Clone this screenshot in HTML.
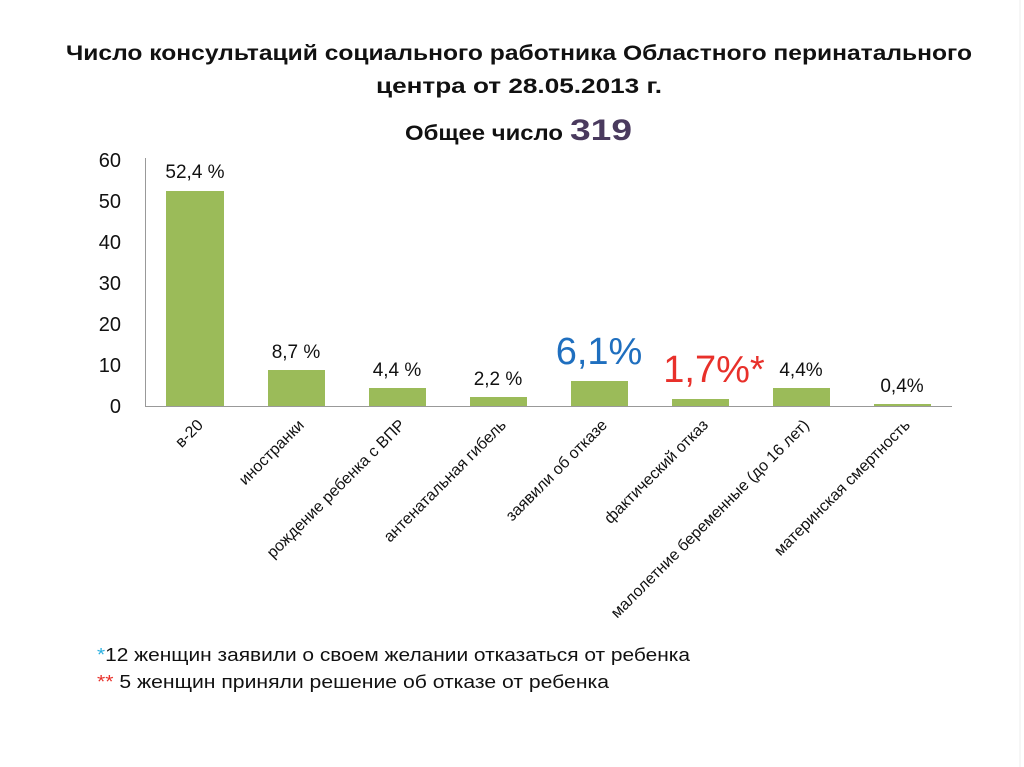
<!DOCTYPE html>
<html><head><meta charset="utf-8"><style>
html,body{margin:0;padding:0;background:#fff;}
svg{display:block;font-family:"Liberation Sans","DejaVu Sans",sans-serif;}
</style></head><body>
<svg width="1024" height="767" viewBox="0 0 1024 767" xmlns="http://www.w3.org/2000/svg">
<rect x="0" y="0" width="1024" height="767" fill="#fff"/>
<line x1="1020" y1="0" x2="1020" y2="767" stroke="#eee" stroke-width="1"/>
<text x="66" y="60" font-size="21" font-weight="bold" fill="#111" textLength="906" lengthAdjust="spacingAndGlyphs">Число консультаций социального работника Областного перинатального</text>
<text x="376" y="93" font-size="21" font-weight="bold" fill="#111" textLength="286" lengthAdjust="spacingAndGlyphs">центра от 28.05.2013 г.</text>
<text x="405" y="140" font-size="21" font-weight="bold" fill="#111" textLength="158" lengthAdjust="spacingAndGlyphs">Общее число</text>
<text x="570" y="140" font-size="30" font-weight="bold" fill="#4a3a5e" textLength="62" lengthAdjust="spacingAndGlyphs">319</text>
<g font-size="20" fill="#111" text-anchor="end">
<text x="121" y="167">60</text><text x="121" y="208">50</text><text x="121" y="249">40</text>
<text x="121" y="290">30</text><text x="121" y="331">20</text><text x="121" y="372">10</text><text x="121" y="413">0</text>
</g>
<line x1="145.5" y1="158" x2="145.5" y2="406" stroke="#999"/>
<line x1="145" y1="406.5" x2="952" y2="406.5" stroke="#999"/>
<g fill="#9bbb59">
<rect x="166" y="191" width="58" height="215"/>
<rect x="268" y="370" width="57" height="36"/>
<rect x="369" y="388" width="57" height="18"/>
<rect x="470" y="397" width="57" height="9"/>
<rect x="571" y="381" width="57" height="25"/>
<rect x="672" y="399" width="57" height="7"/>
<rect x="773" y="388" width="57" height="18"/>
<rect x="874" y="404" width="57" height="2"/>
</g>
<g font-size="19" fill="#111" text-anchor="middle">
<text x="195" y="178">52,4 %</text>
<text x="296" y="358">8,7 %</text>
<text x="397" y="376">4,4 %</text>
<text x="498" y="385">2,2 %</text>
<text x="801" y="376">4,4%</text>
<text x="902" y="392">0,4%</text>
</g>
<text x="599" y="364" text-anchor="middle" font-size="38" fill="#1f6fbf">6,1%</text>
<text x="714" y="382" text-anchor="middle" font-size="38" fill="#e8302a">1,7%*</text>
<g font-size="16" fill="#111" text-anchor="end">
<text transform="translate(204,426) rotate(-45)">в-20</text>
<text transform="translate(305,426) rotate(-45)">иностранки</text>
<text transform="translate(406,426) rotate(-45)">рождение ребенка с ВПР</text>
<text transform="translate(507,426) rotate(-45)">антенатальная гибель</text>
<text transform="translate(608,426) rotate(-45)">заявили об отказе</text>
<text transform="translate(709,426) rotate(-45)">фактический отказ</text>
<text transform="translate(810,426) rotate(-45)">малолетние беременные (до 16 лет)</text>
<text transform="translate(911,426) rotate(-45)">материнская смертность</text>
</g>
<text x="97" y="661" font-size="18" fill="#111" textLength="593" lengthAdjust="spacingAndGlyphs"><tspan fill="#2ab0e0">*</tspan>12 женщин заявили о своем желании отказаться от ребенка</text>
<text x="97" y="688" font-size="18" fill="#111" textLength="512" lengthAdjust="spacingAndGlyphs"><tspan fill="#e8302a">**</tspan> 5 женщин приняли решение об отказе от ребенка</text>
</svg>
</body></html>
